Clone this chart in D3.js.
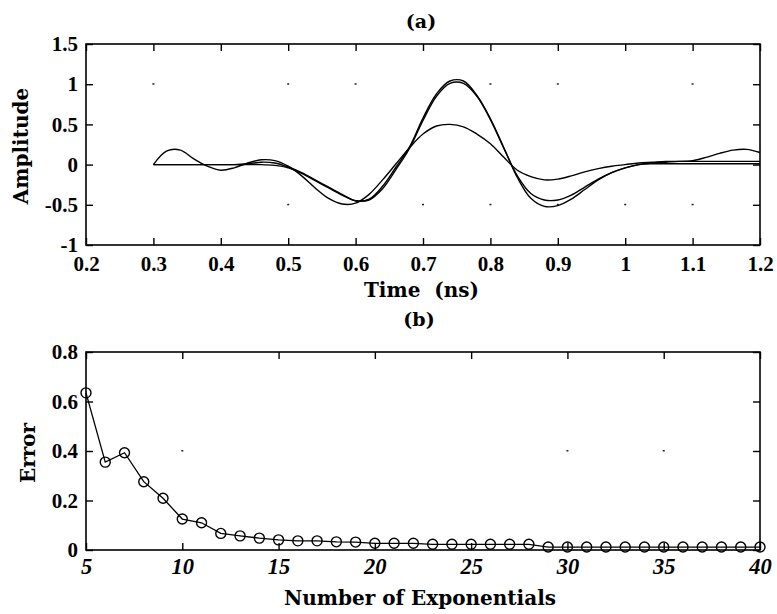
<!DOCTYPE html>
<html>
<head>
<meta charset="utf-8">
<script src="https://cdn.jsdelivr.net/npm/d3@7/dist/d3.min.js"></script>
<style>
  html, body { margin: 0; padding: 0; background: #ffffff; }
  svg { display: block; }
  .tk { font-family: "Liberation Serif", "Tinos", "Times New Roman", Times, serif; font-weight: bold; }
  .lb { font-family: "DejaVu Serif", serif; font-weight: bold; }
</style>
</head>
<body>
<svg id="chart" width="777" height="614"></svg>
<script>
// ---------------- DATA ----------------
// Panel (a): time samples (ns)
const timeNs = [0.30,0.32,0.34,0.36,0.38,0.40,0.42,0.44,0.46,0.48,
                0.50,0.52,0.54,0.56,0.58,0.60,0.62,0.64,0.66,0.68,
                0.70,0.72,0.74,0.76,0.78,0.80,0.82,0.84,0.86,0.88,
                0.90,0.92,0.94,0.96,0.98,1.00,1.02,1.04,1.06,1.08,
                1.10,1.12,1.14,1.16,1.18,1.20];
// original pulse (largest amplitude)
const ampOriginal = [0,0,0,0,0,0,0,0.01,0.03,0.02,
                     -0.03,-0.10,-0.19,-0.28,-0.37,-0.45,-0.43,-0.27,-0.03,0.22,
                     0.58,0.88,1.04,1.04,0.86,0.57,0.21,-0.16,-0.42,-0.52,
                     -0.51,-0.43,-0.31,-0.19,-0.10,-0.04,0.00,0.02,0.03,0.04,
                     0.04,0.04,0.04,0.04,0.04,0.04];
// close approximation
const ampFine = [0,0,0,0,0,0,0,0,0,-0.01,
                 -0.04,-0.11,-0.20,-0.29,-0.38,-0.45,-0.44,-0.30,-0.06,0.20,
                 0.55,0.85,1.01,1.01,0.85,0.56,0.20,-0.14,-0.36,-0.44,
                 -0.44,-0.38,-0.28,-0.18,-0.10,-0.04,0.00,0.01,0.01,0.01,
                 0.01,0.01,0.01,0.01,0.01,0.01];
// coarse approximation (lowest amplitude)
const ampCoarse = [0,0.17,0.18,0.07,-0.02,-0.07,-0.04,0.02,0.06,0.05,
                   -0.02,-0.14,-0.29,-0.42,-0.49,-0.48,-0.37,-0.19,0.01,0.21,
                   0.38,0.48,0.50,0.47,0.38,0.26,0.09,-0.07,-0.15,-0.19,
                   -0.18,-0.14,-0.09,-0.05,-0.02,0.00,0.02,0.03,0.04,0.04,
                   0.05,0.09,0.14,0.18,0.19,0.15];

// Panel (b): error vs number of exponentials
const numExponentials = [5,6,7,8,9,10,11,12,13,14,15,16,17,18,19,20,21,22,
                         23,24,25,26,27,28,29,30,31,32,33,34,35,36,37,38,39,40];
const errorValues = [0.635,0.355,0.393,0.276,0.209,0.125,0.110,0.067,0.057,0.048,
                     0.041,0.037,0.037,0.033,0.032,0.027,0.027,0.027,
                     0.023,0.023,0.023,0.023,0.023,0.023,0.012,0.012,0.012,0.012,
                     0.012,0.012,0.012,0.012,0.012,0.012,0.012,0.012];

// Tick labels
const aTicksX = [0.2,0.3,0.4,0.5,0.6,0.7,0.8,0.9,1,1.1,1.2];
const aTicksY = [-1,-0.5,0,0.5,1,1.5];
const bTicksX = [5,10,15,20,25,30,35,40];
const bTicksY = [0,0.2,0.4,0.6,0.8];

// faint grid remnants (tick intersections)
const aGridDotsX1 = [0.3,0.5,0.6,0.8,0.9,1.1];      // at amplitude 1
const aGridDotsXm = [0.5,0.7,0.8,0.9,1.0,1.1];      // at amplitude -0.5
const bGridDotsX = [10,30,35];                      // at error 0.4

// ---------------- DRAW ----------------
const svg = d3.select("#chart");
svg.append("rect").attr("width",777).attr("height",614).attr("fill","#fff");

function styleAxis(g, size, italic) {
  g.attr("font-family", null).attr("font-size", null);
  g.select(".domain").remove();
  g.selectAll(".tick line").attr("stroke","#000").attr("stroke-width",1.4);
  g.selectAll(".tick text")
    .attr("class","tk")
    .attr("fill","#000")
    .style("font-style", italic ? "italic" : "normal")
    .style("font-size", size + "px");
}

// ---- Panel (a)
const xA = d3.scaleLinear().domain([0.2,1.2]).range([86,760]);
const yA = d3.scaleLinear().domain([-1,1.5]).range([245,44]);

const gA = svg.append("g");
gA.append("g").attr("transform","translate(0,245)")
  .call(d3.axisBottom(xA).tickValues(aTicksX).tickFormat(d=>String(d)).tickSizeInner(-7).tickSizeOuter(0).tickPadding(11))
  .call(g=>styleAxis(g,21,false));
gA.append("g").attr("transform","translate(0,44)")
  .call(d3.axisTop(xA).tickValues(aTicksX).tickFormat("").tickSizeInner(-7).tickSizeOuter(0))
  .call(g=>styleAxis(g,21,false));
gA.append("g").attr("transform","translate(86,0)")
  .call(d3.axisLeft(yA).tickValues(aTicksY).tickFormat(d=>String(d)).tickSizeInner(-7).tickSizeOuter(0).tickPadding(8))
  .call(g=>styleAxis(g,21,false));
gA.append("g").attr("transform","translate(760,0)")
  .call(d3.axisRight(yA).tickValues(aTicksY).tickFormat("").tickSizeInner(-7).tickSizeOuter(0))
  .call(g=>styleAxis(g,21,false));

gA.append("rect").attr("x",xA(0.2)).attr("y",yA(1.5))
  .attr("width",xA(1.2)-xA(0.2)).attr("height",yA(-1)-yA(1.5))
  .attr("fill","none").attr("stroke","#000").attr("stroke-width",1.6);

// grid dots
gA.selectAll(".gd1").data(aGridDotsX1).enter().append("rect")
  .attr("x",d=>xA(d)-1).attr("y",yA(1)-1).attr("width",2).attr("height",1.5).attr("fill","#222");
gA.selectAll(".gd2").data(aGridDotsXm).enter().append("rect")
  .attr("x",d=>xA(d)-1).attr("y",yA(-0.5)-1).attr("width",2).attr("height",1.5).attr("fill","#222");

const lineA = d3.line().x(d=>xA(d[0])).y(d=>yA(d[1])).curve(d3.curveCatmullRom.alpha(0.5));
[ampOriginal, ampFine, ampCoarse].forEach(series=>{
  gA.append("path")
    .datum(timeNs.map((t,i)=>[t,series[i]]))
    .attr("d",lineA).attr("fill","none").attr("stroke","#000").attr("stroke-width",1.4);
});

gA.append("text").attr("class","lb").attr("x",421).attr("y",28).attr("text-anchor","middle")
  .style("font-size","19px").text("(a)");
gA.append("text").attr("class","lb").attr("x",421.5).attr("y",297).attr("text-anchor","middle")
  .style("white-space","pre").style("font-size","20px").text("Time  (ns)");
gA.append("text").attr("class","lb").attr("transform","translate(28,146) rotate(-90)").attr("text-anchor","middle")
  .style("font-size","20px").text("Amplitude");

// ---- Panel (b)
const xB = d3.scaleLinear().domain([5,40]).range([86,760]);
const yB = d3.scaleLinear().domain([0,0.8]).range([550,352]);

const gB = svg.append("g");
gB.append("g").attr("transform","translate(0,550)")
  .call(d3.axisBottom(xB).tickValues(bTicksX).tickFormat(d=>String(d)).tickSizeInner(-7).tickSizeOuter(0).tickPadding(8))
  .call(g=>styleAxis(g,22.5,true));
gB.append("g").attr("transform","translate(0,352)")
  .call(d3.axisTop(xB).tickValues(bTicksX).tickFormat("").tickSizeInner(-7).tickSizeOuter(0))
  .call(g=>styleAxis(g,21,false));
gB.append("g").attr("transform","translate(86,0)")
  .call(d3.axisLeft(yB).tickValues(bTicksY).tickFormat(d=>String(d)).tickSizeInner(-7).tickSizeOuter(0).tickPadding(8))
  .call(g=>styleAxis(g,21,false));
gB.append("g").attr("transform","translate(760,0)")
  .call(d3.axisRight(yB).tickValues(bTicksY).tickFormat("").tickSizeInner(-7).tickSizeOuter(0))
  .call(g=>styleAxis(g,21,false));

gB.append("rect").attr("x",xB(5)).attr("y",yB(0.8))
  .attr("width",xB(40)-xB(5)).attr("height",yB(0)-yB(0.8))
  .attr("fill","none").attr("stroke","#000").attr("stroke-width",1.6);

gB.selectAll(".gd3").data(bGridDotsX).enter().append("rect")
  .attr("x",d=>xB(d)-1).attr("y",yB(0.4)-1).attr("width",2).attr("height",1.5).attr("fill","#222");

const errPts = numExponentials.map((n,i)=>[n,errorValues[i]]);
gB.append("path").datum(errPts)
  .attr("d",d3.line().x(d=>xB(d[0])).y(d=>yB(d[1])))
  .attr("fill","none").attr("stroke","#000").attr("stroke-width",1.3);
gB.selectAll("circle.pt").data(errPts).enter().append("circle")
  .attr("class","pt")
  .attr("cx",d=>xB(d[0])).attr("cy",d=>yB(d[1])).attr("r",5)
  .attr("fill","none").attr("stroke","#000").attr("stroke-width",1.4);

gB.append("text").attr("class","lb").attr("x",419).attr("y",326).attr("text-anchor","middle")
  .style("font-size","19px").text("(b)");
gB.append("text").attr("class","lb").attr("x",420).attr("y",605).attr("text-anchor","middle")
  .style("font-size","20px").text("Number of Exponentials");
gB.append("text").attr("class","lb").attr("transform","translate(35,453) rotate(-90)").attr("text-anchor","middle")
  .style("font-size","20px").text("Error");
</script>
</body>
</html>
